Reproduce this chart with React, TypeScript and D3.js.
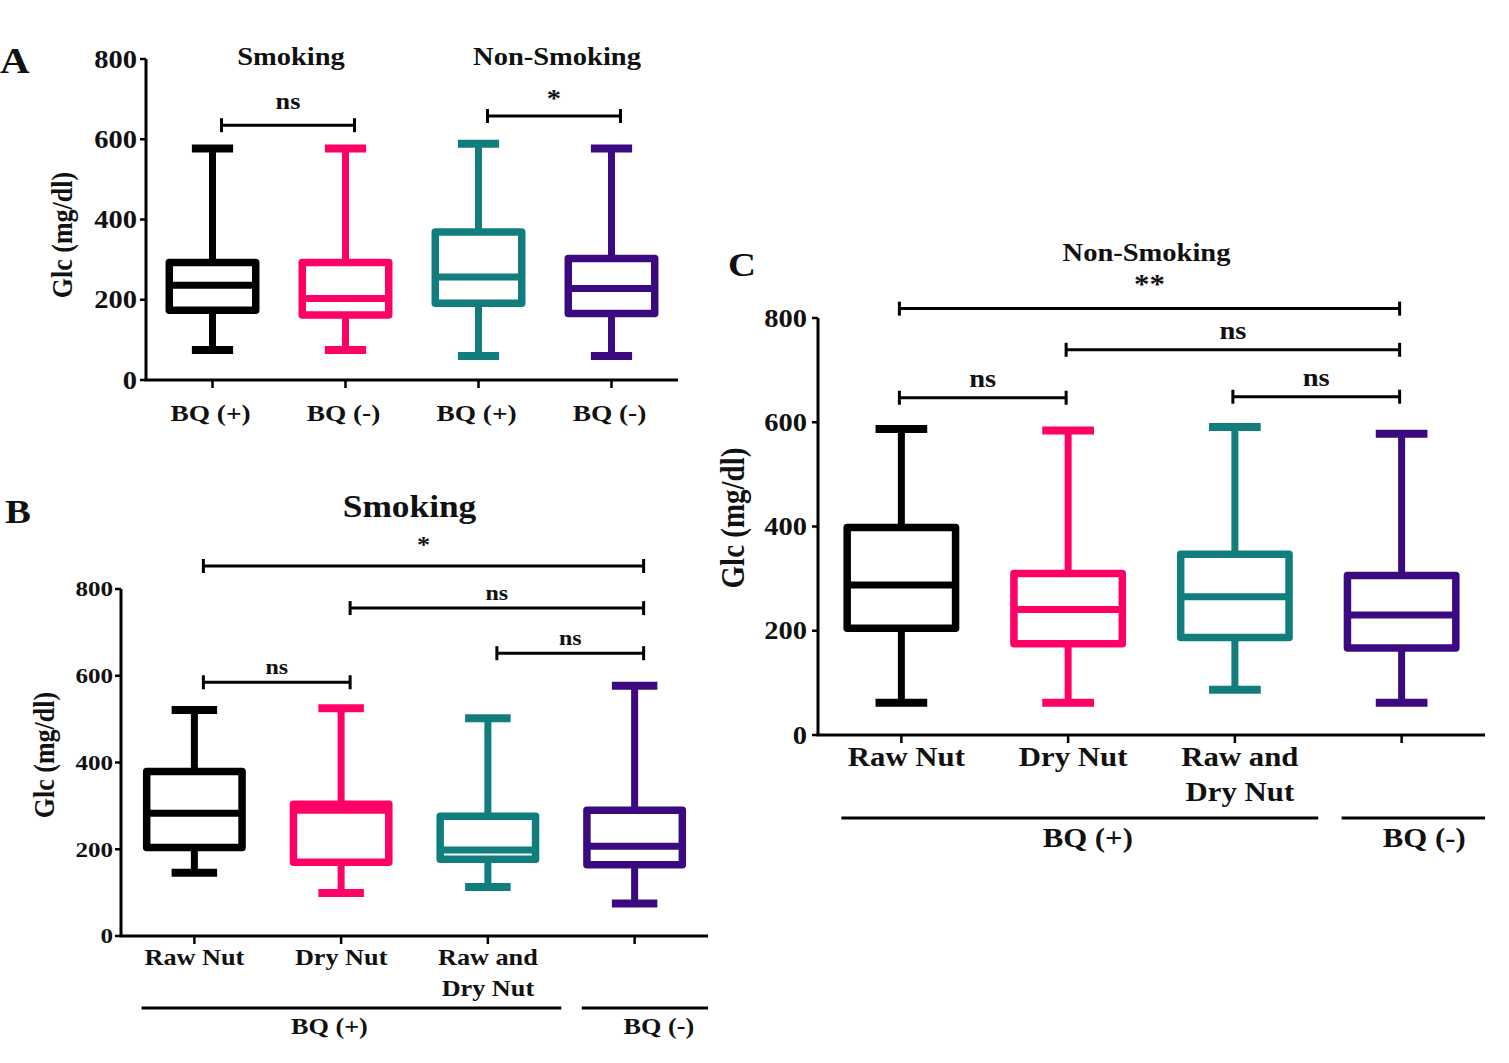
import * as d3 from "d3";

// ── shared ───────────────────────────────────────────────────────────
const boxColors = ["#000000", "#ff0066", "#127d7d", "#3b0a80"];
const yTicks = [0, 200, 400, 600, 800];
const yTitle = "Glc (mg/dl)";

// ── panel A : smoking vs non-smoking, BQ (+) / BQ (-) ────────────────
const catsA = ["BQ (+)", "BQ (-)", "BQ (+)", "BQ (-)"];
const groupsA = ["Smoking", "Non-Smoking"];
const minA = [75, 75, 60, 60];
const q1A = [174, 162, 191, 166];
const medA = [236, 203, 257, 228];
const q3A = [293, 293, 369, 303];
const maxA = [577, 577, 589, 577];
const sigFromA = [0, 2];
const sigToA = [1, 3];
const sigLevelA = [635, 658];
const sigLabelA = ["ns", "*"];

// ── panel B : smoking, by nut type ───────────────────────────────────
const catsB = [["Raw Nut"], ["Dry Nut"], ["Raw and", "Dry Nut"], []];
const minB = [146, 99, 113, 75];
const q1B = [204, 170, 177, 164];
const medB = [283, 290, 198, 207];
const q3B = [379, 304, 276, 290];
const maxB = [521, 525, 502, 577];
const sigFromB = [0, 1, 2, 0];
const sigToB = [3, 3, 3, 1];
const sigLevelB = [853, 756, 652, 585];
const sigLabelB = ["*", "ns", "ns", "ns"];

// ── panel C : non-smoking, by nut type ───────────────────────────────
const catsC = [["Raw Nut"], ["Dry Nut"], ["Raw and", "Dry Nut"], []];
const minC = [62, 62, 87, 62];
const q1C = [205, 175, 187, 167];
const medC = [288, 241, 265, 230];
const q3C = [398, 310, 347, 306];
const maxC = [587, 584, 591, 578];
const sigFromC = [0, 1, 0, 2];
const sigToC = [3, 3, 1, 3];
const sigLevelC = [818, 739, 647, 649];
const sigLabelC = ["**", "ns", "ns", "ns"];

const bqLabels = ["BQ (+)", "BQ (-)"];
const bqFirst = [0, 3];
const bqLast = [2, 3];

const FONT = "'Liberation Serif', 'Times New Roman', serif";
const SX = 1.14; // the figure is slightly stretched horizontally

function T({ x, y, size, anchor = "middle", rot = false, children }: any) {
  const tr = rot
    ? `translate(${x},${y}) rotate(-90) scale(1,${SX})`
    : `translate(${x},${y}) scale(${SX},1)`;
  return (
    <text
      transform={tr}
      fontSize={size}
      textAnchor={anchor}
      fontWeight="bold"
      fontFamily={FONT}
      fill="#111"
    >
      {children}
    </text>
  );
}

function Panel(p: any) {
  const x = d3
    .scaleBand<number>()
    .domain(d3.range(p.mins.length))
    .range([p.x0, p.x1])
    .padding(0);
  const y = d3.scaleLinear().domain([0, 800]).range([p.yBottom, p.yTop]);
  const step = x.step();
  const cx = (i: number) => (x(i) ?? 0) + step / 2;
  const bw = step * 0.65;
  const cw = step * 0.31;

  return (
    <g>
      {/* boxes */}
      {p.mins.map((mn: number, i: number) => {
        const c = boxColors[i];
        return (
          <g key={i} stroke={c} fill="none" strokeLinejoin="round">
            <line x1={cx(i)} x2={cx(i)} y1={y(p.maxs[i])} y2={y(p.q3s[i])} strokeWidth={7} />
            <line x1={cx(i)} x2={cx(i)} y1={y(p.q1s[i])} y2={y(mn)} strokeWidth={7} />
            <line x1={cx(i) - cw / 2} x2={cx(i) + cw / 2} y1={y(p.maxs[i])} y2={y(p.maxs[i])} strokeWidth={8} />
            <line x1={cx(i) - cw / 2} x2={cx(i) + cw / 2} y1={y(mn)} y2={y(mn)} strokeWidth={8} />
            <rect
              x={cx(i) - bw / 2}
              y={y(p.q3s[i])}
              width={bw}
              height={y(p.q1s[i]) - y(p.q3s[i])}
              strokeWidth={7.5}
              fill="#fff"
            />
            <line x1={cx(i) - bw / 2} x2={cx(i) + bw / 2} y1={y(p.meds[i])} y2={y(p.meds[i])} strokeWidth={7} />
          </g>
        );
      })}

      {/* axes */}
      <line x1={p.x0} x2={p.x0} y1={p.yTop} y2={p.yBottom} stroke="#000" strokeWidth={3} />
      <line x1={p.x0 - 1.5} x2={p.x1} y1={p.yBottom} y2={p.yBottom} stroke="#000" strokeWidth={3} />
      {yTicks.map((t) => (
        <g key={t}>
          <line x1={p.x0 - 6} x2={p.x0} y1={y(t)} y2={y(t)} stroke="#000" strokeWidth={2.5} />
          <T x={p.x0 - p.tickGap} y={y(t) + p.tickSize * 0.34} size={p.tickSize} anchor="end">
            {t}
          </T>
        </g>
      ))}
      {p.mins.map((_: number, i: number) => (
        <line key={i} x1={cx(i)} x2={cx(i)} y1={p.yBottom} y2={p.yBottom + 8} stroke="#000" strokeWidth={2.5} />
      ))}
      {p.cats.map((lines: string[], i: number) =>
        lines.map((s, j) => (
          <T
            key={i + "-" + j}
            x={cx(i) + p.catShift}
            y={p.yBottom + p.catDy + j * p.catLine}
            size={p.catSize}
          >
            {s}
          </T>
        )),
      )}
      <T x={p.yTitleX} y={p.yTitleY} size={p.yTitleSize} rot>
        {yTitle}
      </T>

      {/* significance bars */}
      {p.sigFrom.map((a: number, k: number) => {
        const xa = cx(a) + p.sigShift;
        const xb = cx(p.sigTo[k]) + p.sigShift;
        const yy = y(p.sigLevel[k]);
        const star = p.sigLabel[k].includes("*");
        return (
          <g key={k}>
            <line x1={xa} x2={xb} y1={yy} y2={yy} stroke="#000" strokeWidth={3} />
            <line x1={xa} x2={xa} y1={yy - 7} y2={yy + 7} stroke="#000" strokeWidth={3} />
            <line x1={xb} x2={xb} y1={yy - 7} y2={yy + 7} stroke="#000" strokeWidth={3} />
            <T
              x={(xa + xb) / 2}
              y={yy - (star ? p.starGap : p.nsGap)}
              size={star ? p.nsSize + 2 : p.nsSize}
            >
              {p.sigLabel[k]}
            </T>
          </g>
        );
      })}

      {/* BQ group brackets */}
      {p.brackets &&
        bqLabels.map((lab, k) => {
          const xs = (x(bqFirst[k]) ?? 0) + step * 0.14;
          const xe = (x(bqLast[k]) ?? 0) + step;
          return (
            <g key={lab}>
              <line x1={xs} x2={xe} y1={p.bracketY} y2={p.bracketY} stroke="#000" strokeWidth={3} />
              <T x={(xs + xe) / 2 + p.bqShift[k]} y={p.bracketY + p.bracketDy} size={p.catSize}>
                {lab}
              </T>
            </g>
          );
        })}

      {/* titles */}
      {p.groups &&
        p.groups.map((g: string, k: number) => (
          <T key={g} x={(cx(2 * k) + cx(2 * k + 1)) / 2 + 12} y={p.titleY} size={p.titleSize}>
            {g}
          </T>
        ))}
      {p.title && (
        <T x={(p.x0 + p.x1) / 2 - 5} y={p.titleY} size={p.titleSize}>
          {p.title}
        </T>
      )}
      <T x={p.letterX} y={p.letterY} size={p.letterSize} anchor="start">
        {p.letter}
      </T>
    </g>
  );
}

export default function App() {
  return (
    <div style={{ position: "absolute", left: 0, top: 0, background: "#fff" }}>
      <svg width={1509} height={1063} style={{ display: "block" }}>
        <rect width={1509} height={1063} fill="#fff" />
        <Panel
          letter="A" letterX={0} letterY={73} letterSize={36}
          cats={catsA.map((c) => [c])} groups={groupsA} titleY={65} titleSize={25}
          mins={minA} q1s={q1A} meds={medA} q3s={q3A} maxs={maxA}
          sigFrom={sigFromA} sigTo={sigToA} sigLevel={sigLevelA} sigLabel={sigLabelA}
          nsGap={16} starGap={9} nsSize={23} sigShift={9}
          x0={146} x1={678} yTop={59} yBottom={380}
          tickSize={25} tickGap={9} catSize={24} catDy={41} catLine={30} catShift={-2}
          yTitleX={72} yTitleY={235} yTitleSize={26}
        />
        <Panel
          letter="B" letterX={5} letterY={523} letterSize={34}
          cats={catsB} title="Smoking" titleY={517} titleSize={31}
          mins={minB} q1s={q1B} meds={medB} q3s={q3B} maxs={maxB}
          sigFrom={sigFromB} sigTo={sigToB} sigLevel={sigLevelB} sigLabel={sigLabelB}
          nsGap={8} starGap={14} nsSize={21} sigShift={9}
          x0={121} x1={708} yTop={589} yBottom={936}
          tickSize={22} tickGap={8} catSize={23} catDy={29} catLine={31} catShift={0}
          yTitleX={54} yTitleY={755} yTitleSize={26}
          brackets bracketY={1008} bracketDy={26} bqShift={[-22, 14]}
        />
        <Panel
          letter="C" letterX={728} letterY={276} letterSize={34}
          cats={catsC} title="Non-Smoking" titleY={261} titleSize={25}
          mins={minC} q1s={q1C} meds={medC} q3s={q3C} maxs={maxC}
          sigFrom={sigFromC} sigTo={sigToC} sigLevel={sigLevelC} sigLabel={sigLabelC}
          nsGap={11} starGap={16} nsSize={25} sigShift={-2}
          x0={818} x1={1485} yTop={318} yBottom={735}
          tickSize={25} tickGap={11} catSize={27} catDy={31} catLine={35} catShift={5}
          yTitleX={744} yTitleY={518} yTitleSize={29}
          brackets bracketY={818} bracketDy={29} bqShift={[8, 11]}
        />
      </svg>
    </div>
  );
}
